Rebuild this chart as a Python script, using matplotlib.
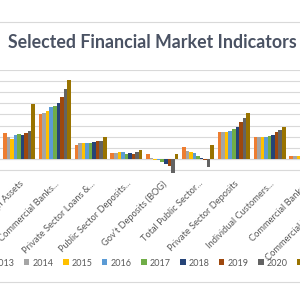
import numpy as np
import matplotlib.pyplot as plt
from matplotlib.lines import Line2D

categories = ["Net Foreign Assets", "Commercial Banks...", "Private Sector Loans &...",
              "Public Sector Deposits...", "Gov\u2019t Deposits (BOG)", "Total Public Sector...",
              "Private Sector Deposits", "Individual Customers...", "Commercial Banks...",
              "Commercial Banks' Loans..."]
years = ["2013", "2014", "2015", "2016", "2017", "2018", "2019", "2020", "2021"]
colors = ["#ED7D31", "#A5A5A5", "#FFC000", "#5B9BD5", "#70AD47", "#264478", "#9E480E", "#636363", "#997300"]

v2013 = [23.0, 40.5, 12.6, 5.7, 4.5, 10.8, 24.6, 20.1, 2.7, 3.0]
v2014 = [20.0, 41.7, 14.0, 5.7, 0.8, 7.5, 24.6, 19.5, 2.7, 3.0]
v2015 = [18.0, 43.5, 14.7, 6.3, -0.5, 6.3, 24.6, 19.4, 2.7, 3.2]
v2016 = [21.5, 46.5, 14.7, 6.6, -1.2, 5.1, 25.5, 19.8, 3.6, 3.4]
v2017 = [22.5, 47.7, 14.7, 4.8, -2.4, 2.7, 26.8, 20.4, 3.2, 3.5]
v2018 = [22.0, 50.7, 15.6, 5.4, -4.5, 0.5, 29.1, 21.9, 3.5, 3.8]
v2019 = [23.0, 56.0, 16.5, 4.8, -6.5, -0.9, 33.6, 24.6, 3.8, 4.0]
v2020 = [25.5, 62.8, 16.5, 6.6, -12.9, -6.8, 36.7, 25.9, 4.0, 4.4]
v2021 = [49.5, 71.2, 19.4, 8.1, 4.2, 12.6, 41.7, 28.6, 4.5, 5.0]
series = [v2013, v2014, v2015, v2016, v2017, v2018, v2019, v2020, v2021]

W = 300.0
fig = plt.figure(figsize=(3, 3), dpi=100)
fig.patch.set_facecolor("white")

# chart is cropped: axes run past both sides of the figure
px0 = 19.0
step = 35.8
xlo, xhi = -1.5, 10.5
ylo, yhi = -12.5, 80
ytop = 70.0
ybot = 159.0 + 12.5 * 1.11
left = (px0 + xlo * step) / W
width = (xhi - xlo) * step / W
ax = fig.add_axes([left, 1 - ybot / W, width, (ybot - ytop) / W])

x = np.arange(len(categories))
w = 0.099
for k in range(len(years)):
    ax.bar(x + (k - 4) * w, series[k], w, color=colors[k], label=years[k], zorder=3)

ax.set_xlim(xlo, xhi)
ax.set_ylim(ylo, yhi)
ax.set_yticks(np.arange(-10, 81, 10))
ax.yaxis.grid(True, color="#D9D9D9", lw=0.8, zorder=0)
ax.axhline(0, color="#D9D9D9", lw=0.8, zorder=1)
for s in ax.spines.values():
    s.set_visible(False)
ax.tick_params(left=False, labelleft=False, bottom=False, pad=1)
ax.set_xticks(x)
ax.set_xticklabels(categories, rotation=45, ha="right", va="top", rotation_mode="anchor",
                   fontsize=6.7, color="#595959", family="Lato")

fig.text(0.507, 1 - 43 / W, "Selected Financial Market Indicators", ha="center", va="center",
         fontsize=12.8, fontweight="bold", color="#4A5263", family="Lato")

for yy in [22, 282]:
    fig.add_artist(Line2D([0, 1], [1 - yy / W, 1 - yy / W], color="#D9D9D9", lw=0.8))

leg = fig.legend(loc="center left", bbox_to_anchor=(-15 / W, 1 - 263 / W), ncol=9, frameon=False,
                 borderaxespad=0, borderpad=0, handlelength=0.6, handleheight=0.6,
                 handletextpad=0.3, columnspacing=1.1, prop={"family": "Lato", "size": 6.5})
for t in leg.get_texts():
    t.set_color("#595959")

plt.savefig("out.png", dpi=100)
